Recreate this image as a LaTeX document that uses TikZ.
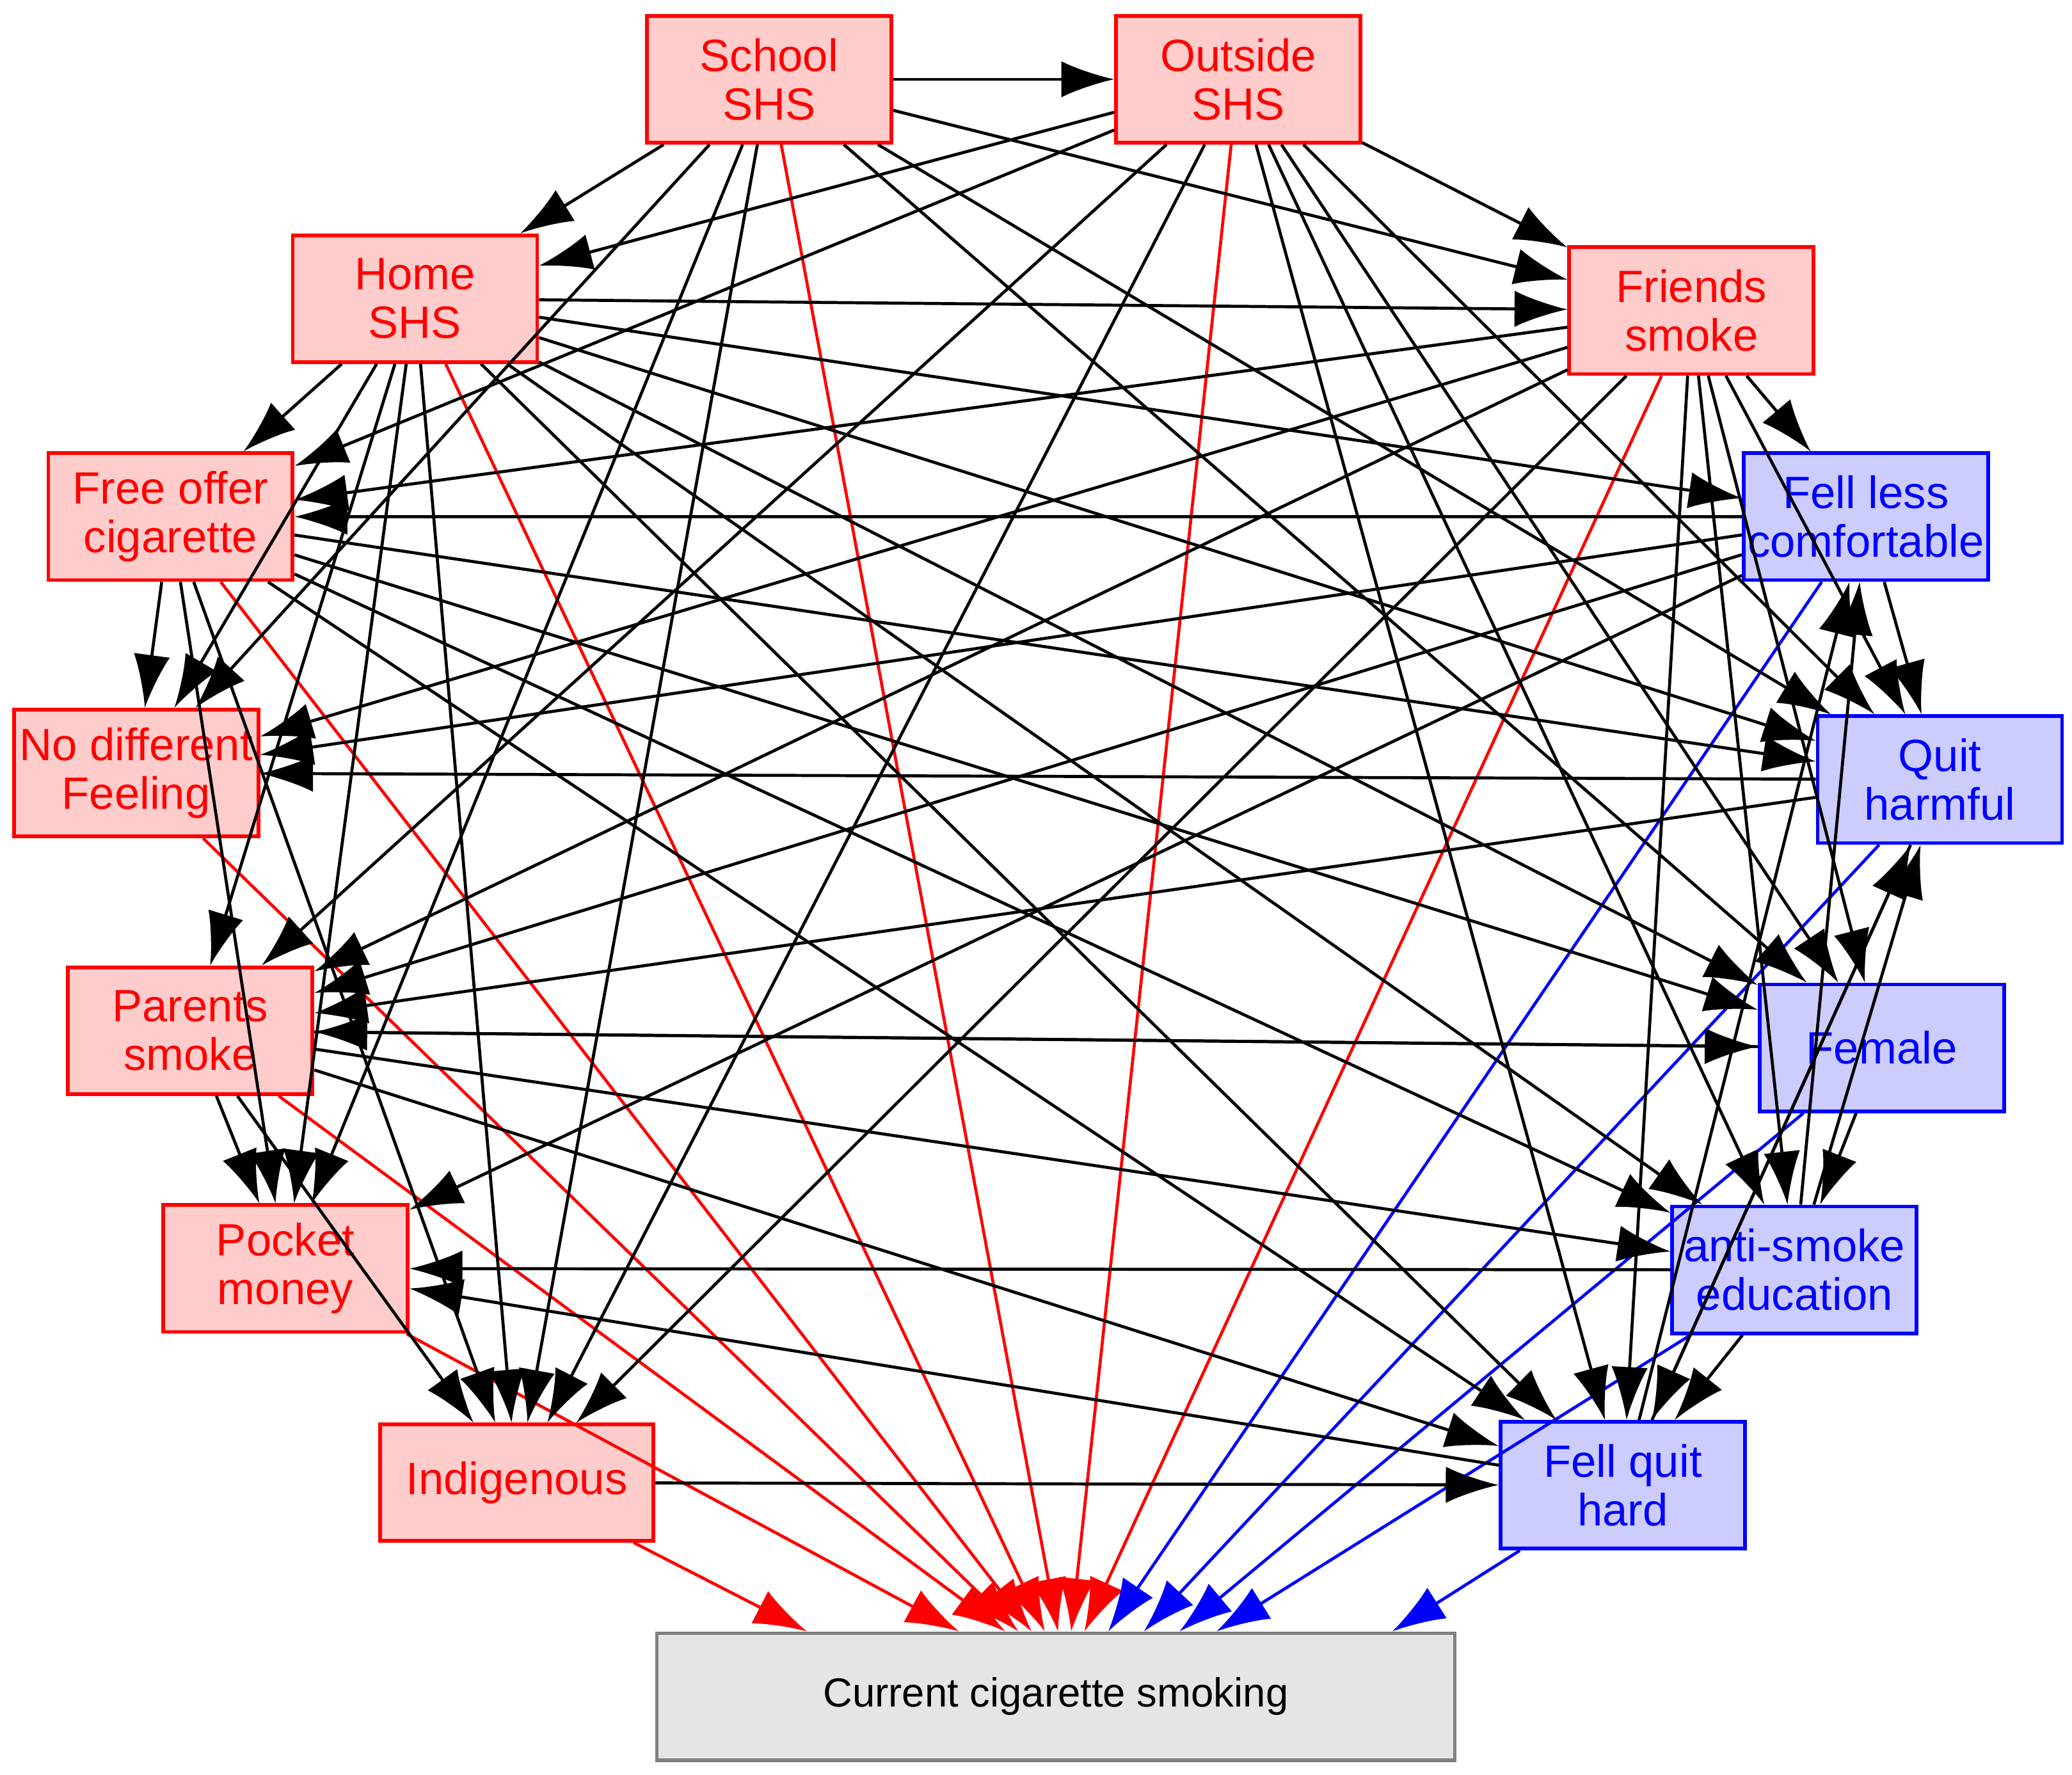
\documentclass[tikz,border=0pt]{standalone}
\usepackage{fontspec}
\setmainfont{Liberation Sans}
\usetikzlibrary{arrows.meta,calc}
\begin{document}
\begin{tikzpicture}[x=0.02cm,y=-0.02cm,
 base/.style={rectangle,line width=1.6pt,minimum width=3.7cm,minimum height=1.92cm,align=center,font=\fontsize{19.5}{21}\selectfont,inner sep=1pt},
 rb/.style={base,fill={rgb,255:red,255;green,204;blue,204},draw=red,text=red},
 bb/.style={base,fill={rgb,255:red,204;green,204;blue,255},draw=blue,text=blue},
 gb/.style={base,fill={rgb,255:red,229;green,229;blue,229},draw=gray,text=black},
 e/.style={-{Latex[length=0.8cm,width=0.55cm]},line width=1.3pt,black},
 re/.style={e,red},be/.style={e,blue}]
\useasboundingbox (0,0) rectangle (1568,1343);
\node[rb] (sch) at (582,60) {School\\SHS};
\node[rb] (out) at (937,60) {Outside\\SHS};
\node[rb] (hom) at (314,226) {Home\\SHS};
\node[rb] (fri) at (1280,235) {Friends\\smoke};
\node[rb] (fre) at (129,391) {Free offer\\cigarette};
\node[bb] (fel) at (1412,391) {Fell less\\comfortable};
\node[rb] (nod) at (103,585) {No different\\Feeling};
\node[bb] (qui) at (1468,590) {Quit\\harmful};
\node[rb] (par) at (144,780) {Parents\\smoke};
\node[bb] (fem) at (1424,793) {Female};
\node[rb] (poc) at (216,960) {Pocket\\money};
\node[bb] (ant) at (1358,961) {anti-smoke\\education};
\node[rb,minimum width=4.14cm,minimum height=1.76cm] (ind) at (391,1122) {Indigenous};
\node[bb] (fqh) at (1228,1124) {Fell quit\\hard};
\node[gb,minimum width=12.08cm,font=\fontsize{17.5}{19}\selectfont] (cur) at (799,1284) {Current cigarette smoking};
% red / blue edges to outcome
\foreach \s/\x in {ind/115,poc/230,par/265,nod/275,fre/285,hom/295,sch/305,fri/325,out/315}
 \draw[re] (\s) -- ($(cur.north west)+(\x,0)$);
\foreach \s/\x in {fel/343,qui/370,fem/397,ant/425,fqh/558}
 \draw[be] (\s) -- ($(cur.north west)+(\x,0)$);
% black edges
\foreach \a/\b in {sch/out,sch/hom,sch/fri,sch/fem,sch/nod,sch/poc,sch/ind,sch/qui,
 out/hom,out/fri,out/fre,out/par,out/ind,out/qui,out/ant,out/fqh,out/fem,
 hom/fri,hom/fre,hom/nod,hom/par,hom/poc,hom/ind,hom/fel,hom/qui,hom/fem,hom/ant,hom/fqh,
 fri/fel,fri/fre,fri/nod,fri/par,fri/ind,fri/fem,fri/ant,fri/fqh,fri/qui,
 fre/nod,fre/qui,fre/fem,fre/ant,fre/fqh,fre/poc,fre/ind,
 fel/qui,fel/nod,fel/fre,fel/par,fel/poc,
 qui/nod,qui/par,qui/fqh,
 par/poc,par/fem,par/ant,par/ind,par/fqh,
 fem/par,fem/ant,
 ant/poc,ant/fqh,ant/fel,ant/qui,
 fqh/poc,fqh/fel,fqh/qui,
 ind/fqh}
 \draw[e] (\a) -- (\b);
\end{tikzpicture}
\end{document}
